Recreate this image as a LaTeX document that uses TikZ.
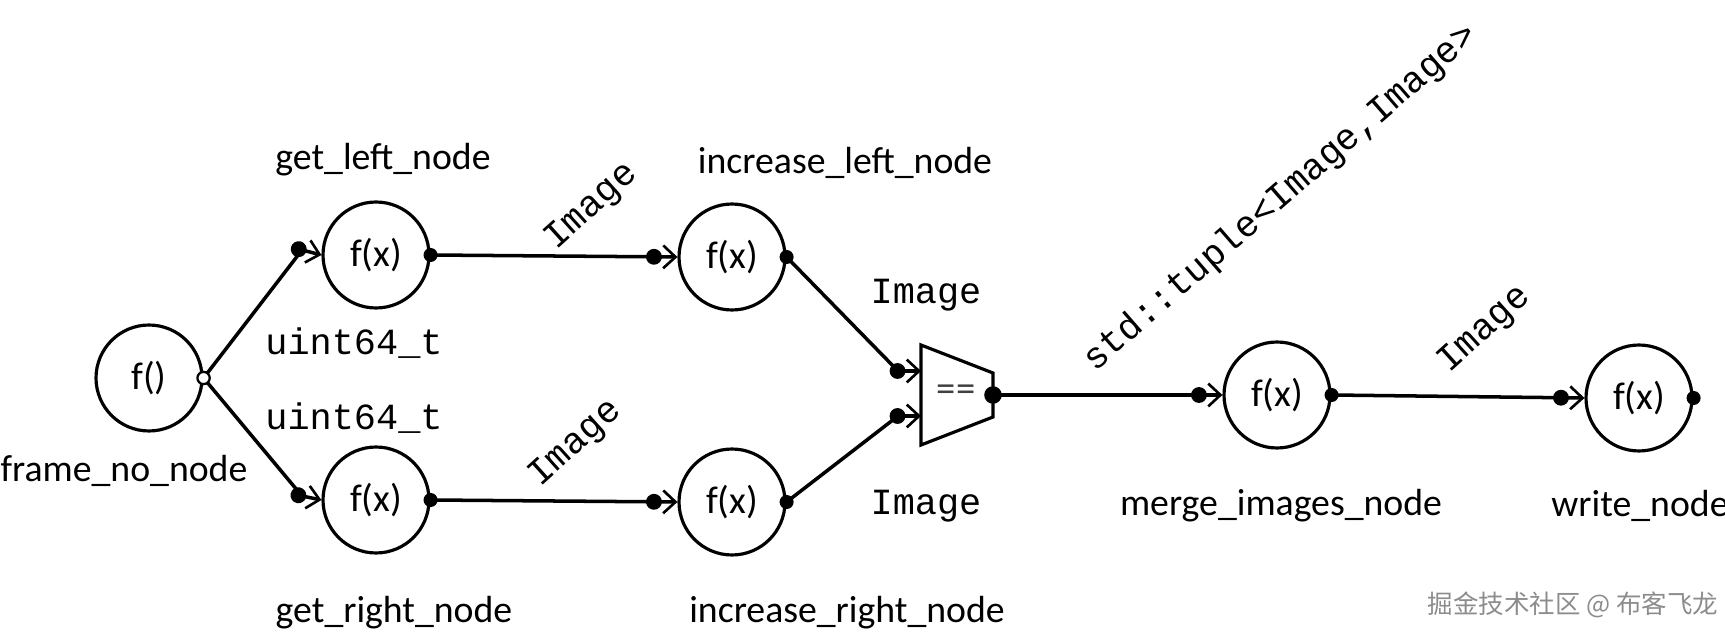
\documentclass[tikz,border=0pt]{standalone}
\usepackage{fontspec}
\setmainfont{Carlito}
\setmonofont{Liberation Mono}
\newfontfamily\cjkf{Noto Sans CJK SC}
\usetikzlibrary{arrows.meta}
\begin{document}
\begin{tikzpicture}[x=0.02cm,y=-0.02cm,
  fn/.style={circle,draw,line width=1.8pt,minimum size=2.12cm,inner sep=0pt,font=\fontsize{22}{24}\selectfont},
  lbl/.style={font=\fontsize{21.5}{24}\selectfont},
  typ/.style={font=\ttfamily\fontsize{21}{24}\selectfont},
  con/.style={line width=2pt,-{Circle[length=9pt] Straight Barb[length=7pt,width=13pt,line width=1.5pt]}},
  odot/.style={circle,fill=black,inner sep=0pt,minimum size=8pt}]
\useasboundingbox (0,0) rectangle (1725,638);
\node[fn] (frame) at (149,378) {f()};
\node[fn] (gl) at (376,255) {f(x)};
\node[fn] (gr) at (376,500) {f(x)};
\node[fn] (il) at (732,257) {f(x)};
\node[fn] (ir) at (732,502) {f(x)};
\node[fn] (merge) at (1277,395) {f(x)};
\node[fn] (write) at (1639,398) {f(x)};
% trapezoid
\coordinate (t1) at (921,345); \coordinate (t2) at (993,373);
\coordinate (t3) at (993,417); \coordinate (t4) at (921,445);
\draw[line width=1.8pt] (t1) -- (t2) -- (t3) -- (t4) -- cycle;
\node[font=\fontsize{22}{24}\selectfont,text=black!75] (eq) at (956,393) {==};
\coordinate (ein1) at (921,371); \coordinate (ein2) at (921,416);
\coordinate (eout) at (993,395);
% connectors
\coordinate (gla) at (302,250); \coordinate (gra) at (302,496);
\draw[con] (frame.east) -- (gla) -- (gl.west);
\draw[con] (frame.east) -- (gra) -- (gr.west);
\draw[con] (gl.east) -- (il.west);
\draw[con] (gr.east) -- (ir.west);
\coordinate (e1a) at (898,371); \coordinate (e2a) at (898,416);
\draw[con] (il.east) -- (e1a) -- (ein1);
\draw[con] (ir.east) -- (e2a) -- (ein2);
\draw[con] (eout) -- (merge.west);
\draw[con] (merge.east) -- (write.west);
% output dots
\node[circle,draw,fill=white,line width=1.3pt,inner sep=0pt,minimum size=7pt] (fo) at (frame.east) {};
\foreach \n in {gl,gr,il,ir,merge,write} \node[odot] at (\n.east) {};
\node[odot,minimum size=10pt] (eo) at (eout) {};
% labels
\node[lbl] (l1) at (124,471) {frame\_no\_node};
\node[lbl] (l2) at (383,160) {get\_left\_node};
\node[lbl] (l3) at (394,613) {get\_right\_node};
\node[lbl] (l4) at (845,163) {increase\_left\_node};
\node[lbl] (l5) at (847,613) {increase\_right\_node};
\node[lbl] (l6) at (1281,506) {merge\_images\_node};
\node[lbl] (l7) at (1640,506) {write\_node};
\node[typ] (u1) at (354,343) {uint64\_t};
\node[typ] (u2) at (354,418) {uint64\_t};
\node[typ,rotate=42] (i1) at (592,207) {Image};
\node[typ,rotate=42] (i2) at (576,444) {Image};
\node[typ] (i3) at (926,295) {Image};
\node[typ] (i4) at (926,506) {Image};
\node[typ,rotate=41] (tp) at (1281,198) {std::tuple<Image,Image>};
\node[typ,rotate=42] (i5) at (1485,330) {Image};
\node[font=\cjkf\fontsize{14.5}{17}\selectfont,text=black!45] (wm) at (1573,605) {掘金技术社区 @ 布客飞龙};
\end{tikzpicture}
\end{document}
